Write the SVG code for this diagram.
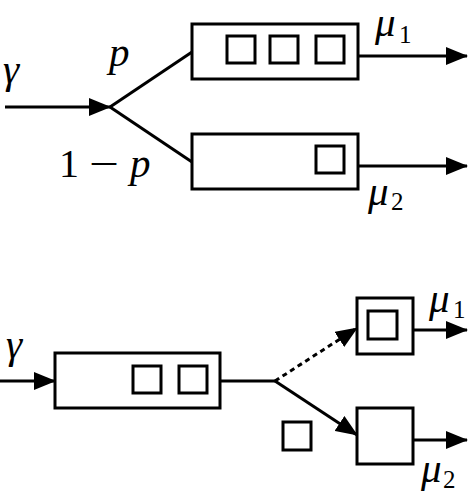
<svg xmlns="http://www.w3.org/2000/svg" width="475" height="496" viewBox="0 0 475 496">
<style>
.box{fill:#fff;stroke:#000;stroke-width:3}
.ln{fill:none;stroke:#000;stroke-width:3}
.dash{stroke-dasharray:5,4}
text{font-family:'Liberation Serif',serif;fill:#000}
.m{font-style:italic;font-size:41px}
.r{font-size:40px}
.s{font-size:25px}
</style>
<defs>
<marker id="ah" markerUnits="userSpaceOnUse" markerWidth="22" markerHeight="18" refX="21" refY="9" orient="auto">
<path d="M0,0 L22,9 L0,18 Z" fill="#000"/>
</marker>
</defs>
<rect width="475" height="496" fill="#fff"/>
<g id="connectors">
<line class="ln" x1="5" y1="107" x2="110" y2="107" marker-end="url(#ah)"/>
<line class="ln" x1="110" y1="107" x2="192" y2="52"/>
<line class="ln" x1="110" y1="107" x2="192" y2="162"/>
<line class="ln" x1="358" y1="56" x2="467" y2="56" marker-end="url(#ah)"/>
<line class="ln" x1="358" y1="166" x2="467" y2="166" marker-end="url(#ah)"/>
<line class="ln" x1="0" y1="381" x2="55" y2="381" marker-end="url(#ah)"/>
<line class="ln" x1="220" y1="381" x2="275" y2="381"/>
<line class="ln dash" x1="275" y1="381" x2="357" y2="328" marker-end="url(#ah)"/>
<line class="ln" x1="275" y1="381" x2="357" y2="435" marker-end="url(#ah)"/>
<line class="ln" x1="413" y1="330" x2="467" y2="330" marker-end="url(#ah)"/>
<line class="ln" x1="413" y1="440" x2="467" y2="440" marker-end="url(#ah)"/>
</g>
<g id="queue1">
<rect class="box" x="192" y="24" width="166" height="55"/>
<rect class="box" x="227" y="36" width="28" height="27"/>
<rect class="box" x="270" y="36" width="28" height="27"/>
<rect class="box" x="316" y="36" width="28" height="27"/>
</g>
<g id="queue2">
<rect class="box" x="192" y="134" width="166" height="55"/>
<rect class="box" x="316" y="146" width="28" height="27"/>
</g>
<g id="queue3">
<rect class="box" x="55" y="353" width="165" height="55"/>
<rect class="box" x="133" y="366" width="28" height="27"/>
<rect class="box" x="179" y="366" width="28" height="27"/>
</g>
<g id="server1">
<rect class="box" x="357" y="298" width="56" height="56"/>
<rect class="box" x="368" y="311" width="29" height="28"/>
</g>
<g id="server2">
<rect class="box" x="357" y="408" width="56" height="56"/>
</g>
<g id="job">
<rect class="box" x="283" y="422" width="28" height="28"/>
</g>
<g id="labels">
<text class="m" x="3" y="83">γ</text>
<text class="m" x="109" y="66">p</text>
<text class="r" x="59" y="177">1</text>
<text class="r" x="89" y="177" textLength="30" lengthAdjust="spacingAndGlyphs">−</text>
<text class="m" x="130" y="177">p</text>
<text class="m" x="375" y="36">μ</text>
<text class="s" x="399" y="43">1</text>
<text class="m" x="368" y="205">μ</text>
<text class="s" x="391" y="210">2</text>
<text class="m" x="6" y="358">γ</text>
<text class="m" x="429" y="312">μ</text>
<text class="s" x="453" y="318">1</text>
<text class="m" x="421" y="482">μ</text>
<text class="s" x="443" y="488">2</text>
</g>
</svg>
